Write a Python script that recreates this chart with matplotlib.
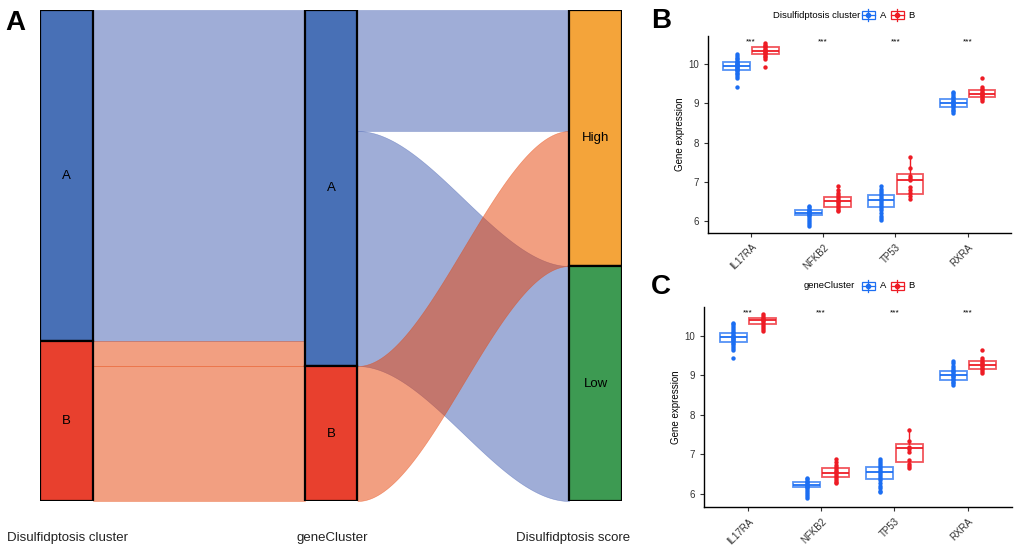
import numpy as np
import matplotlib
matplotlib.use("Agg")
import matplotlib.pyplot as plt
from matplotlib.patches import Rectangle
from matplotlib.lines import Line2D

plt.rcParams['font.family'] = ['Liberation Sans', 'DejaVu Sans']

# ---------------- data ----------------
# sankey (panel A): axis names, strata and flows (counts)
axis_names = ['Disulfidptosis cluster', 'geneCluster', 'Disulfidptosis score']
strata = [['A', 'B'], ['A', 'B'], ['High', 'Low']]
flows_12 = [('A', 'A', 331), ('B', 'A', 25), ('B', 'B', 135)]
flows_23 = [('A', 'High', 121), ('A', 'Low', 235), ('B', 'High', 135)]

# boxplots (panels B, C)
genes = ['IL17RA', 'NFKB2', 'TP53', 'RXRA']

# panel B: Disulfidptosis cluster
b_med = {'A': [9.96, 6.21, 6.52, 9.00], 'B': [10.34, 6.50, 7.05, 9.24]}
b_q1 = {'A': [9.85, 6.14, 6.35, 8.90], 'B': [10.26, 6.35, 6.69, 9.17]}
b_q3 = {'A': [10.06, 6.28, 6.65, 9.11], 'B': [10.45, 6.62, 7.19, 9.34]}
b_lo = {'A': [9.64, 5.93, 6.03, 8.75], 'B': [10.13, 6.24, 6.56, 9.07]}
b_hi = {'A': [10.25, 6.39, 6.90, 9.30], 'B': [10.53, 6.89, 7.62, 9.41]}
b_pts = {
    'A': [
        [9.43, 9.66, 9.70, 9.74, 9.78, 9.82, 9.85, 9.88, 9.90, 9.93, 9.95, 9.97,
         9.99, 10.01, 10.03, 10.05, 10.08, 10.12, 10.16, 10.20, 10.25],
        [5.88, 5.93, 5.97, 6.02, 6.08, 6.12, 6.15, 6.18, 6.20, 6.22, 6.25, 6.28,
         6.31, 6.35, 6.39],
        [6.03, 6.08, 6.13, 6.20, 6.28, 6.33, 6.38, 6.43, 6.48, 6.52, 6.56, 6.60,
         6.65, 6.70, 6.76, 6.82, 6.90],
        [8.75, 8.80, 8.84, 8.88, 8.92, 8.95, 8.98, 9.00, 9.03, 9.06, 9.09, 9.13,
         9.17, 9.22, 9.27, 9.30],
    ],
    'B': [
        [9.93, 10.14, 10.18, 10.22, 10.26, 10.29, 10.32, 10.34, 10.37, 10.40,
         10.43, 10.46, 10.50, 10.53],
        [6.24, 6.28, 6.33, 6.37, 6.42, 6.47, 6.50, 6.55, 6.60, 6.65, 6.70, 6.78,
         6.89],
        [6.56, 6.63, 6.72, 6.80, 6.86, 7.05, 7.10, 7.15, 7.35, 7.62],
        [9.07, 9.10, 9.14, 9.18, 9.21, 9.24, 9.27, 9.30, 9.33, 9.37, 9.41, 9.65],
    ],
}

# panel C: geneCluster
c_med = {'A': [9.96, 6.23, 6.54, 9.00], 'B': [10.40, 6.52, 7.15, 9.27]}
c_q1 = {'A': [9.85, 6.16, 6.36, 8.89], 'B': [10.29, 6.41, 6.79, 9.16]}
c_q3 = {'A': [10.06, 6.30, 6.67, 9.11], 'B': [10.46, 6.64, 7.27, 9.37]}
c_lo = {'A': [9.64, 5.88, 6.03, 8.74], 'B': [10.13, 6.26, 6.66, 9.06]}
c_hi = {'A': [10.33, 6.40, 6.89, 9.36], 'B': [10.54, 6.89, 7.63, 9.43]}
c_pts = {
    'A': [
        [9.44, 9.64, 9.68, 9.73, 9.78, 9.82, 9.86, 9.89, 9.92, 9.95, 9.97, 10.00,
         10.03, 10.06, 10.10, 10.15, 10.20, 10.25, 10.29, 10.33],
        [5.88, 5.93, 5.98, 6.04, 6.10, 6.14, 6.17, 6.20, 6.23, 6.26, 6.29, 6.32,
         6.36, 6.40],
        [6.03, 6.08, 6.14, 6.20, 6.28, 6.34, 6.39, 6.44, 6.49, 6.54, 6.58, 6.62,
         6.67, 6.72, 6.77, 6.83, 6.89],
        [8.74, 8.79, 8.83, 8.87, 8.91, 8.95, 8.98, 9.01, 9.04, 9.07, 9.10, 9.14,
         9.19, 9.24, 9.30, 9.36],
    ],
    'B': [
        [10.13, 10.18, 10.23, 10.28, 10.32, 10.36, 10.40, 10.43, 10.46, 10.50,
         10.54],
        [6.26, 6.30, 6.35, 6.40, 6.45, 6.50, 6.54, 6.58, 6.63, 6.68, 6.73, 6.80,
         6.89],
        [6.66, 6.70, 6.75, 6.85, 7.05, 7.12, 7.18, 7.33, 7.62],
        [9.06, 9.10, 9.15, 9.19, 9.23, 9.27, 9.30, 9.34, 9.38, 9.43, 9.65],
    ],
}

# ---------------- styles ----------------
stratum_col = [{'A': '#4870B6', 'B': '#E8402E'},
               {'A': '#4870B6', 'B': '#E8402E'},
               {'High': '#F4A43A', 'Low': '#3D9A52'}]
flow_col = {'A': '#415DB1', 'B': '#E74105'}
grp_col = {'A': '#1C6EF2', 'B': '#EE1C25'}

W, H = 1020, 552
fig = plt.figure(figsize=(W / 100, H / 100), dpi=100)


def px_axes(x0, y0, x1, y1):
    return fig.add_axes([x0 / W, 1 - y1 / H, (x1 - x0) / W, (y1 - y0) / H])


# ---------------- panel A: sankey ----------------
axA = px_axes(40, 10, 622, 501)
sw = 0.2
xs = [1, 2, 3]
total = sum(f[2] for f in flows_12)
axA.set_xlim(1 - sw / 2, 3 + sw / 2)
axA.set_ylim(total, 0)
axA.axis('off')


def stack(levels, sizes):
    pos, y = {}, 0
    for lv in levels:
        pos[lv] = y
        y += sizes.get(lv, 0)
    return pos


def smooth_flow(ax, x0, x1, t0, b0, t1, b1, color):
    t = np.linspace(0, 1, 200)
    s = 3 * t ** 2 - 2 * t ** 3
    xx = x0 + (x1 - x0) * t
    ax.fill_between(xx, t0 + (t1 - t0) * s, b0 + (b1 - b0) * s,
                    facecolor=color, edgecolor=color, alpha=0.5, lw=0.4,
                    zorder=1)


def draw_segment(flows, lv_left, lv_right, xl, xr):
    left_sz, right_sz = {}, {}
    for a, b, n in flows:
        left_sz[a] = left_sz.get(a, 0) + n
        right_sz[b] = right_sz.get(b, 0) + n
    lpos = stack(lv_left, left_sz)
    rpos = stack(lv_right, right_sz)
    # incoming order on the right: by target, then source order
    rin = {}
    cur = dict(rpos)
    for b in lv_right:
        for a, bb, n in sorted(flows, key=lambda f: lv_left.index(f[0])):
            if bb == b:
                rin[(a, bb)] = cur[b]
                cur[b] += n
    cur = dict(lpos)
    for a, b, n in flows:
        y0 = cur[a]
        cur[a] += n
        y1 = rin[(a, b)]
        smooth_flow(axA, xl + sw / 2, xr - sw / 2, y0, y0 + n, y1, y1 + n,
                    flow_col[a])
    return left_sz, right_sz


sz1, sz2 = draw_segment(flows_12, strata[0], strata[1], xs[0], xs[1])
_, sz3 = draw_segment(flows_23, strata[1], strata[2], xs[1], xs[2])

for i, sizes in enumerate([sz1, sz2, sz3]):
    y = 0
    for lv in strata[i]:
        n = sizes[lv]
        axA.add_patch(Rectangle((xs[i] - sw / 2, y), sw, n,
                                facecolor=stratum_col[i][lv], edgecolor='black',
                                lw=1.6, zorder=3))
        axA.text(xs[i], y + n / 2, lv, ha='center', va='center', fontsize=9.5,
                 zorder=4)
        y += n

for name, xpx in zip(axis_names, [68, 332, 573]):
    fig.text(xpx / W, 1 - 538 / H, name, ha='center', va='center', fontsize=9.5,
             color='#222222')

fig.text(5 / W, 1 - 23 / H, 'A', fontsize=20, fontweight='bold', va='center')


# ---------------- panels B, C: boxplots ----------------
def box_panel(ax, med, q1, q3, lo, hi, pts, ylim):
    xpos = np.arange(1, len(genes) + 1)
    for g, off in zip(['A', 'B'], [-0.2, 0.2]):
        stats = [dict(med=med[g][i], q1=q1[g][i], q3=q3[g][i],
                      whislo=lo[g][i], whishi=hi[g][i], fliers=[])
                 for i in range(len(genes))]
        col = grp_col[g]
        ax.bxp(stats, positions=xpos + off, widths=0.37, showcaps=False,
               patch_artist=True, manage_ticks=False,
               boxprops=dict(facecolor='white', edgecolor=col, lw=1.3, alpha=0.75),
               medianprops=dict(color=col, lw=1.3),
               whiskerprops=dict(color=col, lw=1.0))
        for i in range(len(genes)):
            ax.scatter(np.full(len(pts[g][i]), xpos[i] + off), pts[g][i],
                       s=10, color=col, lw=0, zorder=4)
    for i in range(len(genes)):
        ax.text(xpos[i], 10.58, '***', ha='center', va='center', fontsize=6)
    ax.set_xlim(0.4, len(genes) + 0.6)
    ax.set_ylim(*ylim)
    ax.set_xticks(xpos)
    ax.set_xticklabels(genes, rotation=45, ha='right', va='top',
                       rotation_mode='anchor', fontsize=7, color='#333333')
    ax.set_yticks([6, 7, 8, 9, 10])
    ax.tick_params(axis='y', labelsize=7, length=3, color='#333333',
                   labelcolor='#333333')
    ax.tick_params(axis='x', length=3, color='#333333')
    ax.set_ylabel('Gene expression', fontsize=7, labelpad=2)
    for s in ['top', 'right']:
        ax.spines[s].set_visible(False)
    for s in ['left', 'bottom']:
        ax.spines[s].set_linewidth(1.0)


def legend_row(title, title_x, ymid):
    fig.text(title_x / W, 1 - ymid / H, title, fontsize=6.8, va='center',
             ha='left')
    for g, kx, tx in [('A', 862, 880), ('B', 891, 908)]:
        col = grp_col[g]
        fig.add_artist(Rectangle((kx / W, 1 - (ymid + 4) / H), 13 / W, 8 / H,
                                 facecolor='white', edgecolor=col, lw=0.9,
                                 transform=fig.transFigure))
        fig.add_artist(Line2D([(kx + 6.5) / W] * 2,
                              [1 - (ymid + 6) / H, 1 - (ymid - 6) / H],
                              color=col, lw=0.9, transform=fig.transFigure))
        fig.add_artist(Line2D([kx / W, (kx + 13) / W], [1 - ymid / H] * 2,
                              color=col, lw=0.9, transform=fig.transFigure))
        fig.add_artist(Line2D([(kx + 6.5) / W], [1 - ymid / H], marker='o',
                              ms=3, color=col, lw=0, transform=fig.transFigure))
        fig.text(tx / W, 1 - ymid / H, g, fontsize=6.8, va='center', ha='left')


axB = px_axes(707.7, 36, 1011, 233)
box_panel(axB, b_med, b_q1, b_q3, b_lo, b_hi, b_pts, (5.69, 10.72))
legend_row('Disulfidptosis cluster', 773, 15)
fig.text(651 / W, 1 - 21 / H, 'B', fontsize=20, fontweight='bold', va='center')

axC = px_axes(704, 307, 1011.7, 507.3)
box_panel(axC, c_med, c_q1, c_q3, c_lo, c_hi, c_pts, (5.655, 10.727))
legend_row('geneCluster', 804, 286)
fig.text(651 / W, 1 - 287 / H, 'C', fontsize=20, fontweight='bold', va='center')

fig.savefig('out.png', dpi=100)
